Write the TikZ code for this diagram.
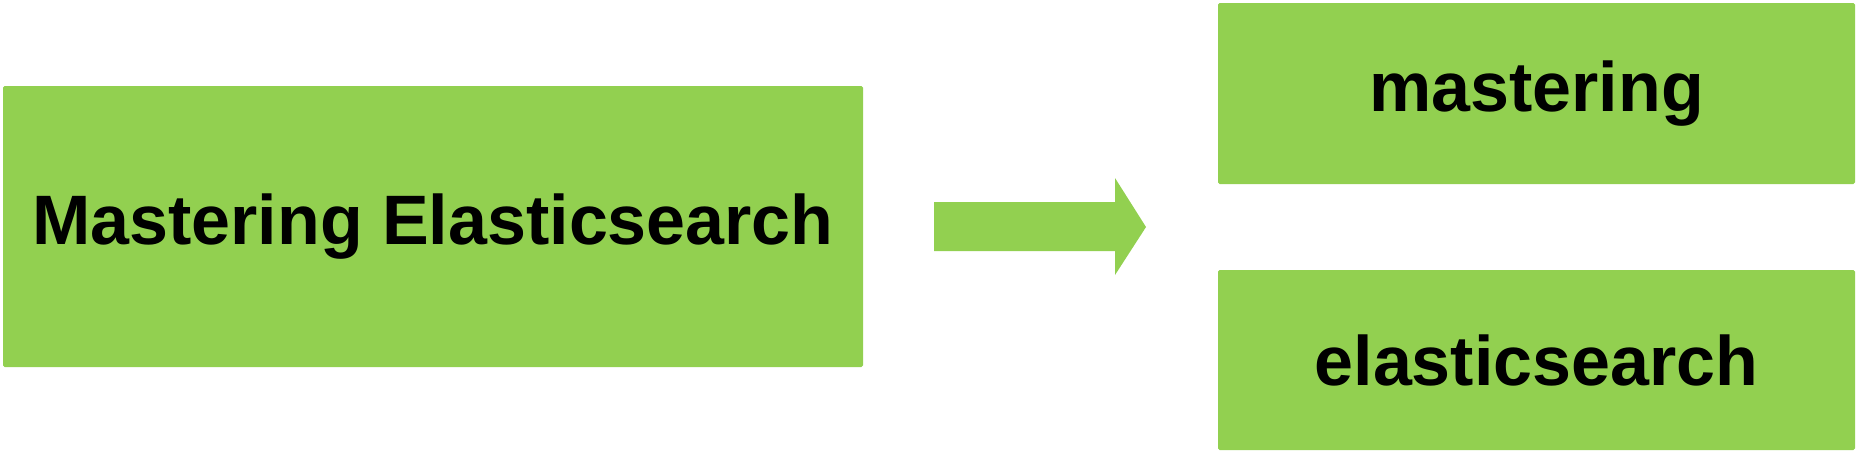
\documentclass[tikz,border=0pt]{standalone}
\usepackage{fontspec}
\setmainfont{Liberation Sans}
\definecolor{boxgreen}{HTML}{92D050}
\begin{document}
\begin{tikzpicture}[x=0.5pt,y=-0.5pt,
  box/.style={fill=boxgreen, draw=none, rounded corners=0.8pt, inner sep=0pt,
    font=\fontsize{35}{40}\selectfont\bfseries, text=black},
  arrowfill/.style={fill=boxgreen, draw=none}
]
\useasboundingbox (0,0) rectangle (1856,451);
\node[box, minimum width=430pt, minimum height=140.5pt] (src) at (433,226.5) {Mastering Elasticsearch};
\node[box, minimum width=318.5pt, minimum height=90.5pt] (t1) at (1536.5,93.5) {mastering};
\node[box, minimum width=318.5pt, minimum height=90pt] (t2) at (1536.5,360) {elasticsearch};
\coordinate (as) at (934,227);
\coordinate (ae) at (1146,227);
\path[arrowfill] (as) ++(0,-25) -- ++(181,0) -- ++(0,-24) -- (ae) -- ++(-31,48) -- ++(0,-24) -- ++(-181,0) -- cycle;
\end{tikzpicture}
\end{document}
